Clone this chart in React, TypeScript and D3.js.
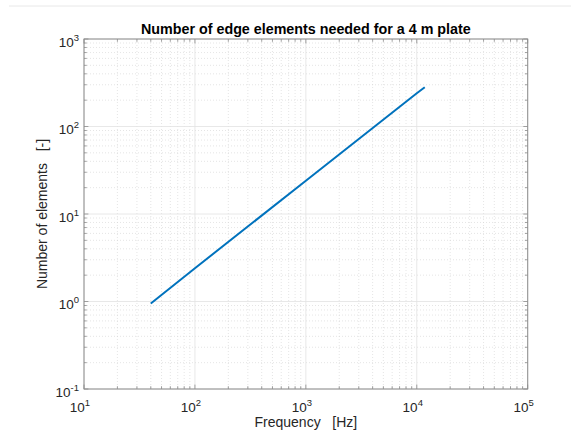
import React from "react";
import * as d3 from "d3";

const freqs = [40, 100, 1000, 10000, 11800];
const elements = [0.95, 2.4, 24, 240, 281];
const xDecades = [1, 2, 3, 4, 5];
const yDecades = [-1, 0, 1, 2, 3];
const titleText = "Number of edge elements needed for a 4 m plate";
const xLabel = "Frequency   [Hz]";
const yLabel = "Number of elements   [-]";

const W = 571, H = 434;
const L = 84, R = 527.7, T = 39, B = 389;

export default function App() {
  const x = d3.scaleLog().domain([10, 1e5]).range([L, R]);
  const y = d3.scaleLog().domain([0.1, 1000]).range([B, T]);
  const line = d3.line<number>().x((_, i) => x(freqs[i])).y((d) => y(d));

  const minorX: number[] = [];
  for (let e = 1; e < 5; e++) for (let m = 2; m <= 9; m++) minorX.push(m * Math.pow(10, e));
  const minorY: number[] = [];
  for (let e = -1; e < 3; e++) for (let m = 2; m <= 9; m++) minorY.push(m * Math.pow(10, e));

  const font = "'Liberation Sans', Arial, Helvetica, sans-serif";
  const axisCol = "#8c8c8c";
  const tl = 4.4, tm = 2.8;

  return (
    <svg width={W} height={H} style={{ position: "absolute", left: 0, top: 0, background: "#fff" }} fontFamily={font}>
      <rect x={0} y={0} width={W} height={H} fill="#fff" />
      <line x1={9} x2={W} y1={6} y2={6} stroke="#e8e8e8" strokeWidth={1} />
      {minorX.map((v) => (
        <line key={"mgx" + v} x1={x(v)} x2={x(v)} y1={T} y2={B} stroke="#d4d4d4" strokeWidth={0.6} strokeDasharray="1,2" />
      ))}
      {minorY.map((v) => (
        <line key={"mgy" + v} x1={L} x2={R} y1={y(v)} y2={y(v)} stroke="#d4d4d4" strokeWidth={0.6} strokeDasharray="1,2" />
      ))}
      {xDecades.map((e) => (
        <line key={"gx" + e} x1={x(Math.pow(10, e))} x2={x(Math.pow(10, e))} y1={T} y2={B} stroke="#e2e2e2" strokeWidth={0.8} />
      ))}
      {yDecades.map((e) => (
        <line key={"gy" + e} x1={L} x2={R} y1={y(Math.pow(10, e))} y2={y(Math.pow(10, e))} stroke="#e2e2e2" strokeWidth={0.8} />
      ))}
      {minorX.map((v) => (
        <g key={"tx" + v} stroke={axisCol} strokeWidth={0.8}>
          <line x1={x(v)} x2={x(v)} y1={B} y2={B - tm} />
          <line x1={x(v)} x2={x(v)} y1={T} y2={T + tm} />
        </g>
      ))}
      {minorY.map((v) => (
        <g key={"ty" + v} stroke={axisCol} strokeWidth={0.8}>
          <line x1={L} x2={L + tm} y1={y(v)} y2={y(v)} />
          <line x1={R} x2={R - tm} y1={y(v)} y2={y(v)} />
        </g>
      ))}
      {xDecades.map((e) => (
        <g key={"Tx" + e} stroke={axisCol} strokeWidth={0.8}>
          <line x1={x(Math.pow(10, e))} x2={x(Math.pow(10, e))} y1={B} y2={B - tl} />
          <line x1={x(Math.pow(10, e))} x2={x(Math.pow(10, e))} y1={T} y2={T + tl} />
        </g>
      ))}
      {yDecades.map((e) => (
        <g key={"Ty" + e} stroke={axisCol} strokeWidth={0.8}>
          <line x1={L} x2={L + tl} y1={y(Math.pow(10, e))} y2={y(Math.pow(10, e))} />
          <line x1={R} x2={R - tl} y1={y(Math.pow(10, e))} y2={y(Math.pow(10, e))} />
        </g>
      ))}
      <rect x={L} y={T} width={R - L} height={B - T} fill="none" stroke={axisCol} strokeWidth={1} />
      <path d={line(elements) || ""} fill="none" stroke="#0072BD" strokeWidth={2} />
      {xDecades.map((e) => (
        <text key={"lx" + e} x={x(Math.pow(10, e)) - 4} y={B + 23} fontSize={13.5} fill="#262626" textAnchor="middle">
          10
          <tspan fontSize={9.5} dy={-6}>{e}</tspan>
        </text>
      ))}
      {yDecades.map((e) => (
        <text key={"ly" + e} x={L - 5} y={y(Math.pow(10, e)) + 7.5} fontSize={13.5} fill="#262626" textAnchor="end">
          10
          <tspan fontSize={9.5} dy={-6}>{e}</tspan>
        </text>
      ))}
      <text x={(L + R) / 2} y={33.5} fontSize={14.3} fontWeight="bold" textAnchor="middle" fill="#000">{titleText}</text>
      <text x={(L + R) / 2} y={427} fontSize={14} textAnchor="middle" fill="#262626" style={{ whiteSpace: "pre" }}>{xLabel}</text>
      <text transform={`translate(47,${(T + B) / 2}) rotate(-90)`} fontSize={14} textAnchor="middle" fill="#262626" style={{ whiteSpace: "pre" }}>{yLabel}</text>
    </svg>
  );
}
